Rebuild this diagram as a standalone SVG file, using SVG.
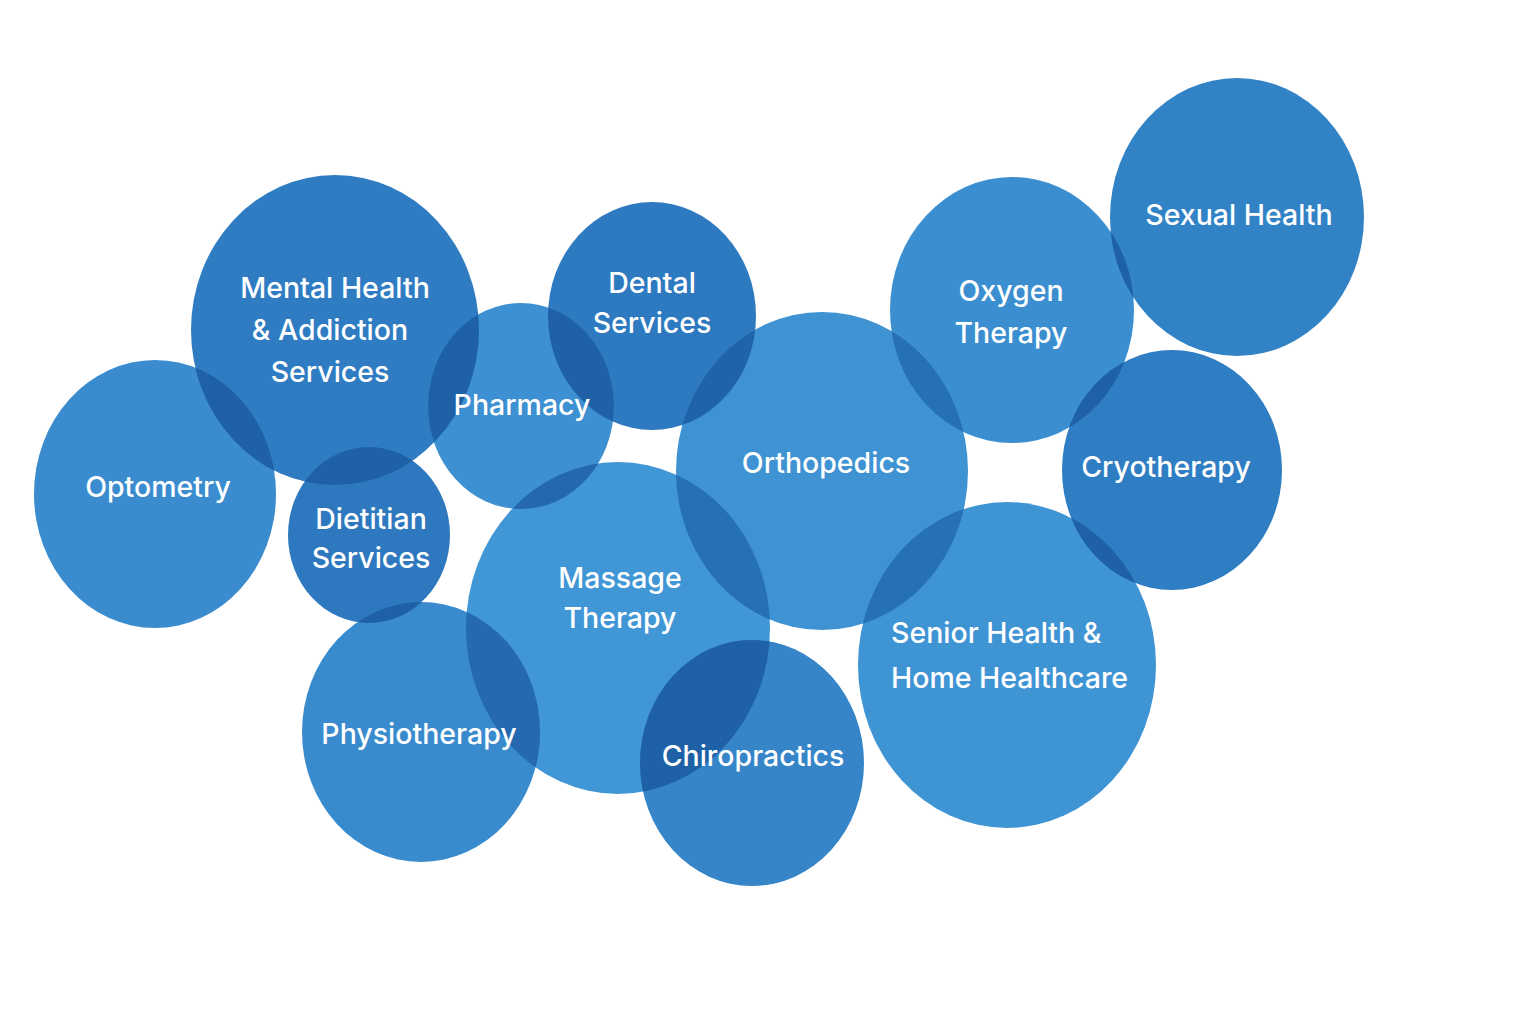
<svg xmlns="http://www.w3.org/2000/svg" width="1536" height="1024" viewBox="0 0 1536 1024">
<style>
.lbl{font-family:Inter,"Open Sans","Liberation Sans",sans-serif;font-size:28.5px;font-weight:500;fill:#ffffff;text-anchor:middle}
.ov{fill:#1e61a7}
.ov2{fill:#2670b5}
</style>
<defs>
<clipPath id="k-opt"><ellipse cx="155" cy="494" rx="121" ry="134"/></clipPath>
<clipPath id="k-men"><ellipse cx="335" cy="330" rx="144" ry="155"/></clipPath>
<clipPath id="k-die"><ellipse cx="369" cy="535" rx="81" ry="88"/></clipPath>
<clipPath id="k-den"><ellipse cx="652" cy="316" rx="104" ry="114"/></clipPath>
<clipPath id="k-pha"><ellipse cx="521" cy="406" rx="93" ry="103"/></clipPath>
<clipPath id="k-mas"><ellipse cx="618" cy="628" rx="152" ry="166"/></clipPath>
<clipPath id="k-ort"><ellipse cx="822" cy="471" rx="146" ry="159"/></clipPath>
<clipPath id="k-oxy"><ellipse cx="1012" cy="310" rx="122" ry="133"/></clipPath>
<clipPath id="k-cry"><ellipse cx="1172" cy="470" rx="110" ry="120"/></clipPath>
</defs>
<rect width="1536" height="1024" fill="#ffffff"/>
<g id="connectors"/>
<g id="optometry">
<ellipse cx="155" cy="494" rx="121" ry="134" fill="#3a8ccf"/>
<text class="lbl" x="158" y="497">Optometry</text>
</g>
<g id="mental-health">
<ellipse cx="335" cy="330" rx="144" ry="155" fill="#2f7cc2"/>
<ellipse class="ov" cx="335" cy="330" rx="144" ry="155" clip-path="url(#k-opt)"/>
<text class="lbl" x="335" y="298">Mental Health</text>
<text class="lbl" x="330" y="340">&amp; Addiction</text>
<text class="lbl" x="330" y="382">Services</text>
</g>
<g id="dietitian">
<ellipse cx="369" cy="535" rx="81" ry="88" fill="#2d78be"/>
<ellipse class="ov" cx="369" cy="535" rx="81" ry="88" clip-path="url(#k-men)"/>
<text class="lbl" x="371" y="529">Dietitian</text>
<text class="lbl" x="371" y="568">Services</text>
</g>
<g id="dental">
<ellipse cx="652" cy="316" rx="104" ry="114" fill="#2e7ac0"/>
<text class="lbl" x="652" y="293">Dental</text>
<text class="lbl" x="652" y="333">Services</text>
</g>
<g id="pharmacy">
<ellipse cx="521" cy="406" rx="93" ry="103" fill="#3d90d1"/>
<ellipse class="ov" cx="521" cy="406" rx="93" ry="103" clip-path="url(#k-men)"/>
<ellipse class="ov" cx="521" cy="406" rx="93" ry="103" clip-path="url(#k-den)"/>
<text class="lbl" x="522" y="415">Pharmacy</text>
</g>
<g id="massage">
<ellipse cx="618" cy="628" rx="152" ry="166" fill="#4196d6"/>
<ellipse cx="618" cy="628" rx="152" ry="166" clip-path="url(#k-pha)" fill="#2468ae"/>
<text class="lbl" x="620" y="588">Massage</text>
<text class="lbl" x="620" y="628">Therapy</text>
</g>
<g id="physiotherapy">
<ellipse cx="421" cy="732" rx="119" ry="130" fill="#3a8bce"/>
<ellipse class="ov" cx="421" cy="732" rx="119" ry="130" clip-path="url(#k-die)"/>
<ellipse cx="421" cy="732" rx="119" ry="130" clip-path="url(#k-mas)" fill="#2569b0"/>
<text class="lbl" x="419" y="744">Physiotherapy</text>
</g>
<g id="chiropractics">
<ellipse cx="752" cy="763" rx="112" ry="123" fill="#3585c8"/>
<ellipse class="ov" cx="752" cy="763" rx="112" ry="123" clip-path="url(#k-mas)"/>
<text class="lbl" x="753" y="766">Chiropractics</text>
</g>
<g id="orthopedics">
<ellipse cx="822" cy="471" rx="146" ry="159" fill="#3f93d3"/>
<ellipse class="ov" cx="822" cy="471" rx="146" ry="159" clip-path="url(#k-den)" style="fill:#1f64ab"/>
<ellipse class="ov2" cx="822" cy="471" rx="146" ry="159" clip-path="url(#k-mas)"/>
<text class="lbl" x="826" y="473">Orthopedics</text>
</g>
<g id="oxygen-therapy">
<ellipse cx="1012" cy="310" rx="122" ry="133" fill="#3b8fd1"/>
<ellipse class="ov2" cx="1012" cy="310" rx="122" ry="133" clip-path="url(#k-ort)"/>
<text class="lbl" x="1011" y="301">Oxygen</text>
<text class="lbl" x="1011" y="343">Therapy</text>
</g>
<g id="sexual-health">
<ellipse cx="1237" cy="217" rx="127" ry="139" fill="#3283c6"/>
<ellipse class="ov" cx="1237" cy="217" rx="127" ry="139" clip-path="url(#k-oxy)"/>
<text class="lbl" x="1239" y="225">Sexual Health</text>
</g>
<g id="cryotherapy">
<ellipse cx="1172" cy="470" rx="110" ry="120" fill="#2f7dc3"/>
<ellipse class="ov" cx="1172" cy="470" rx="110" ry="120" clip-path="url(#k-oxy)"/>
<text class="lbl" x="1166" y="477">Cryotherapy</text>
</g>
<g id="senior-health">
<ellipse cx="1007" cy="665" rx="149" ry="163" fill="#3f94d4"/>
<ellipse class="ov2" cx="1007" cy="665" rx="149" ry="163" clip-path="url(#k-ort)"/>
<ellipse class="ov" cx="1007" cy="665" rx="149" ry="163" clip-path="url(#k-cry)"/>
<text class="lbl" x="891" y="643" style="text-anchor:start">Senior Health &amp;</text>
<text class="lbl" x="891" y="688" style="text-anchor:start">Home Healthcare</text>
</g>
</svg>
